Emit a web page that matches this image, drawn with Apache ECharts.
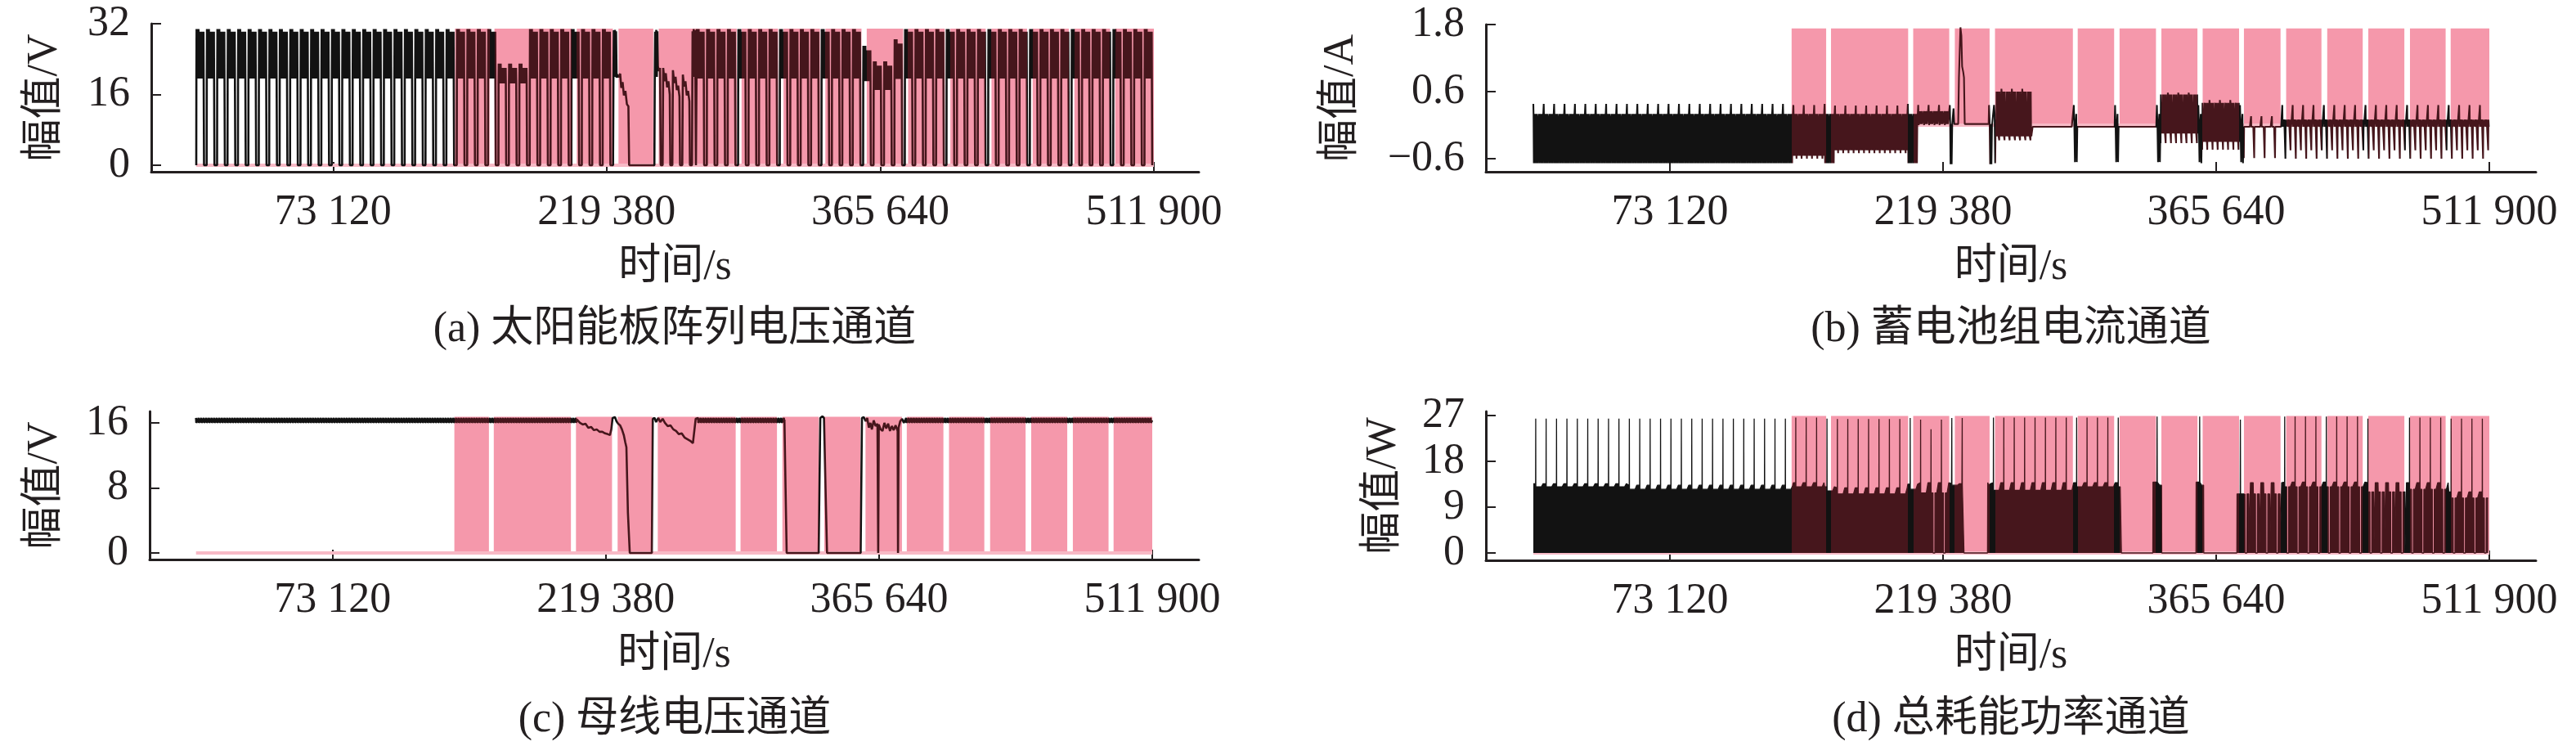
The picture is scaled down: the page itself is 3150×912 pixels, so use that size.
<!DOCTYPE html>
<html><head><meta charset="utf-8">
<script src="https://cdn.jsdelivr.net/npm/echarts@6/dist/echarts.min.js"></script>
<style>html,body{margin:0;padding:0;background:#fff}#c{width:3150px;height:912px}</style>
</head><body><div id="c"></div>
<script>
// ================= DATA =================
const xTicks = [73120, 219380, 365640, 511900];
const tEnd = 511900;
const period = 5570;      // orbit period in s (spacing of the repeating pattern)
const cycleCount = 92;

// anomaly label windows (pink), seconds
const windowStart = [138300,159400,203400,225700,247200,291500,313900,336300,358400,380500,403100,425100,447100,469400,491200];
const windowEnd   = [156800,200700,222700,244300,288900,311000,333400,355600,377900,400100,422000,444100,466400,488500,511900];
const labelTopA = 30.9, labelTopB = 1.73, labelTopC = 16.75, labelTopD = 26.9;

const yTicksA = [0, 16, 32];
const yTicksB = [-0.6, 0.6, 1.8];
const yTicksC = [0, 8, 16];
const yTicksD = [0, 9, 18, 27];

// ---- (a) solar array voltage: one orbit = [phase, level key]; z = 0
const aKeys = ['h','o','l'];
const aTemplate = [[0,'z'],[0.01,'l'],[0.03,'h'],[0.06,'l'],[0.09,'h'],[0.12,'l'],[0.15,'h'],[0.18,'l'],[0.21,'h'],[0.24,'l'],[0.27,'o'],[0.3,'l'],[0.33,'o'],[0.36,'l'],[0.39,'o'],[0.42,'l'],[0.45,'o'],[0.48,'l'],[0.51,'o'],[0.54,'l'],[0.57,'o'],[0.6,'l'],[0.63,'o'],[0.66,'l'],[0.69,'o'],[0.71,'l'],[0.745,'z'],[1,'z']];
// [fromCycle, toCycle, h, o, l]
const aRuns = [[0,28,30.8,30.2,19.6],[29,31,23.0,22.0,18.5],[32,63,30.8,30.2,19.6],[64,64,27.0,26.0,19.0],[65,66,23.5,22.5,17.0],[67,67,28.5,27.5,19.5],[68,91,30.8,30.2,19.6]];
const aSpecial = [[222800,0],[223000,19.6],[223200,30.5],[223500,20],[223800,30.6],[224100,20],[224400,30.3],[224700,19.8],[225000,20.5],[225800,19.9],[226600,20.7],[227200,17.5],[227900,18.8],[228600,15.8],[229400,16.8],[230200,13.8],[231000,13.3],[231400,0],[244900,0],[245100,20],[245300,30.2],[245600,20],[245900,30.6],[246200,20],[246500,30.3],[246800,22.3],[247400,21.3],[247900,22],[248300,0],[249300,0],[249600,22],[250300,19],[251000,20.8],[251700,17.6],[252400,19],[253100,16],[253400,0],[254500,0],[254800,21.5],[255500,18.6],[256200,20],[256900,17],[257600,18],[258300,15.5],[258600,0],[259800,0],[260100,20.5],[260800,17.8],[261500,19],[262200,15.8],[262900,16.8],[263600,14.5],[263900,0],[265000,0],[265300,30.3],[265600,20],[265900,30.8],[266200,20],[266500,30.5],[266800,19.8],[267100,0],[267400,0]];

// ---- (b) battery current
const bKeys = ['u','p','b','d','e','g'];
const bTemplate = [[0,'u'],[0.02,'p'],[0.05,'e'],[0.08,'p'],[0.11,'b'],[0.14,'e'],[0.17,'p'],[0.21,'b'],[0.27,'b'],[0.3,'d'],[0.33,'p'],[0.36,'b'],[0.39,'e'],[0.42,'b'],[0.5,'b'],[0.53,'p'],[0.56,'e'],[0.59,'b'],[0.62,'e'],[0.65,'p'],[0.68,'b'],[0.76,'b'],[0.79,'g'],[0.82,'p'],[0.85,'b'],[0.88,'e'],[0.91,'b'],[1,'b']];
// [from, to, u, p, b, d, e, g]
const bRuns = [[0,24,0.38,0.2,0.02,-0.68,-0.68,-0.68],[25,27,0.36,0.2,0.02,-0.6,-0.55,-0.6],[28,28,0.38,0.2,0.02,-0.68,-0.68,-0.68],[29,35,0.35,0.2,0.0,-0.5,-0.45,-0.5],[36,36,0.38,0.2,0.02,-0.68,-0.68,-0.68],[37,39,0.36,0.25,0.02,0.02,0.0,0.02],[40,43,0.02,0.02,0.02,0.02,0.02,0.02],[44,47,0.65,0.6,-0.15,-0.27,-0.2,-0.27],[48,59,-0.03,-0.03,-0.03,-0.03,-0.03,-0.03],[60,63,0.58,0.55,-0.05,-0.32,-0.15,-0.32],[64,67,0.45,0.4,-0.05,-0.44,-0.3,-0.44],[68,71,0.16,-0.03,-0.03,-0.59,-0.03,-0.03],[72,91,0.36,0.1,-0.03,-0.6,-0.03,-0.45]];
const bSpecial1 = [[222800,0.02],[223000,0.36],[223200,0.02],[223400,-0.7],[223700,0.02],[224000,-0.7],[224300,0.02],[225000,0.3],[225400,0.02],[227500,0.02],[227900,0.85],[228300,1.3],[228700,1.75],[229200,1.6],[229600,1.05],[230200,0.95],[230600,0.85],[231000,0.02],[243800,0.02],[244000,0.36],[244300,0.1],[244600,-0.7],[244900,0.02],[245300,-0.7],[245600,0.0],[246400,0.0],[246700,0.36],[247000,0.2],[247300,-0.68],[247600,0.1],[248000,-0.2]];
const bSpecial2 = [[289200,-0.03],[289400,0.36],[289700,-0.03],[290000,-0.66],[290300,-0.03],[290700,0.2],[291000,-0.66],[291300,-0.03]];
const bSpecial3 = [[311300,-0.03],[311500,0.36],[311800,-0.03],[312100,-0.66],[312400,-0.03],[312800,0.2],[313100,-0.66],[313400,-0.03]];
const bSpecial4 = [[333700,-0.03],[333900,0.36],[334200,-0.03],[334500,-0.66],[334800,-0.03],[335200,0.2],[335500,-0.66],[335800,-0.03]];
const bSpecial5 = [[355900,-0.03],[356100,0.36],[356400,-0.03],[356700,-0.66],[357000,-0.03],[357400,0.2],[357700,-0.68],[358000,-0.03]];
const bSpecial6 = [[378200,-0.03],[378400,0.36],[378700,-0.03],[379000,-0.66],[379300,-0.03],[379700,0.2],[380000,-0.68],[380300,-0.03]];

// ---- (c) bus voltage
const cKeys = ['h','l','m'];
const cTemplate = [[0,'h'],[0.03,'l'],[0.15,'m'],[0.25,'h'],[0.28,'l'],[0.4,'m'],[0.5,'h'],[0.53,'l'],[0.65,'m'],[0.75,'h'],[0.78,'l'],[0.9,'m'],[1,'h']];
const cRuns = [[0,91,16.6,16.0,16.3]];
const cSpecial1 = [[203900,16.4],[205500,16.0],[207000,15.8],[208500,15.9],[210000,15.4],[211500,15.5],[213000,15.1],[214500,15.2],[216000,14.9],[217500,14.9],[219000,14.7],[220500,14.6],[221600,14.5],[222300,15.2],[223000,16.6],[224300,16.7],[225100,16.2],[226000,15.9],[227000,15.7],[228000,15.2],[229000,14.5],[229800,13.6],[230400,13.0],[231200,5],[232200,0],[244000,0],[244500,16.5],[245500,16.6],[246300,16.1],[247500,16.6],[248500,16.1],[249800,16.5],[251000,16.0],[252500,15.6],[254000,15.7],[255500,15.2],[257000,15.0],[258500,14.6],[260000,14.7],[261500,14.2],[263000,14.0],[264500,13.8],[266000,13.5],[266800,13.3],[267500,16.5],[268000,16.6]];
const cSpecial2 = [[315000,16.4],[315600,8],[316200,0],[333300,0],[334200,16.6],[335300,16.8],[336200,16.6],[337000,8],[337800,0],[355800,0],[356500,16.6],[357500,16.7],[358500,16.2],[359300,16.6],[360200,15.4],[361000,16.0],[361800,15.2],[362800,16.3],[363800,15.6],[364800,15.9],[365200,0],[365500,15.8],[366500,15.2],[367500,15.0],[368500,16.0],[369500,15.3],[370500,15.9],[371500,15.0],[372500,15.6],[373500,15.1],[374500,15.7],[375600,15.0],[375800,0],[376100,15.4],[377000,16.2],[378000,16.5],[378700,16.6]];

// ---- (d) total power
const dKeys = ['s','a','c','z','y'];
const dTemplate = [[0,'a'],[0.2,'a'],[0.22,'c'],[0.23,'s'],[0.24,'c'],[0.42,'c'],[0.43,'z'],[0.6,'z'],[0.61,'c'],[0.78,'c'],[0.79,'y'],[0.93,'y'],[0.94,'a'],[1,'a']];
// [from, to, s, a, c, z, y]
const dRuns = [[0,8,26.4,13.6,13.0,13.0,13.0],[9,24,26.4,13.3,12.5,12.5,12.5],[25,27,26.6,13.8,13.0,13.0,13.0],[28,28,26.4,13.0,12.2,12.2,12.2],[29,35,26.3,12.8,11.6,11.6,11.6],[36,36,26.5,13.5,12.5,12.5,12.5],[37,37,26.2,13.8,11.8,11.8,11.8],[38,38,24.3,13.8,11.8,0,11.8],[39,39,26.2,13.8,11.8,0,11.8],[40,43,26.5,13.6,13.3,13.3,13.3],[44,51,26.6,13.8,12.3,12.3,12.3],[52,67,26.6,13.8,13.0,13.0,13.0],[68,71,11.6,13.8,11.6,0,0],[72,79,26.8,13.9,13.0,0,13.0],[80,80,26.4,13.8,12.0,0,0],[81,83,12.0,13.8,12.0,0,0],[84,87,26.6,13.8,12.5,0,12.5],[88,91,26.4,12.0,10.8,0,10.8]];
const dSpecial1 = [[230500,13.3],[230600,0],[243200,0],[243300,13.8]];
const dSpecial2 = [[314800,12.8],[314900,0],[331700,0],[331800,13.9],[333900,13.9],[334000,26.8],[334100,13.9],[335300,13.3],[336400,13.3],[336500,0],[354800,0],[354900,13.9],[356700,13.9],[356800,26.8],[356900,13.9],[357800,13.3],[358900,13.3],[359000,0],[376700,0],[376800,11.6],[378500,11.6],[378600,26.2],[378700,11.6],[380600,11.6],[380700,0]];

const titles = ['(a) 太阳能板阵列电压通道','(b) 蓄电池组电流通道','(c) 母线电压通道','(d) 总耗能功率通道'];
const yNames = ['幅值/V','幅值/A','幅值/V','幅值/W'];
const xName = '时间/s';

// ================= BUILD =================
function build(template, keys, runs, specials) {
  let pts = [];
  for (let k = 0; k < cycleCount; k++) {
    const run = runs.find(r => k >= r[0] && k <= r[1]);
    for (const [f, key] of template) {
      const t = Math.round((k + f) * period);
      if (t > tEnd) break;
      const v = key === 'z' && keys.indexOf('z') < 0 ? 0 : run[2 + keys.indexOf(key)];
      pts.push([t, v]);
    }
  }
  for (const sp of specials) {
    const s = sp[0][0], e = sp[sp.length - 1][0];
    pts = pts.filter(p => p[0] < s || p[0] > e).concat(sp);
  }
  pts.sort((p, q) => p[0] - q[0]);
  return pts;
}
function labelData(top) {
  const out = [];
  windowStart.forEach((s, i) => { out.push([s, 0], [s, top], [windowEnd[i], top], [windowEnd[i], 0]); });
  return out;
}

const sigA = build(aTemplate, aKeys, aRuns, [aSpecial]);
const sigB = build(bTemplate, bKeys, bRuns, [bSpecial1, bSpecial2, bSpecial3, bSpecial4, bSpecial5, bSpecial6]);
const sigC = build(cTemplate, cKeys, cRuns, [cSpecial1, cSpecial2]);
const sigD = build(dTemplate, dKeys, dRuns, [dSpecial1, dSpecial2]);

// ================= LAYOUT / STYLE =================
const ink = '#231f20';
const fontFam = "'Liberation Serif','Noto Sans CJK SC'";
const pink = '#f598ab', band = '#f7bac6', black = '#121212', maroon = '#46161c';
const grids = [
  {left: 185, top: 29, width: 1281, height: 181},
  {left: 1817, top: 30, width: 1284, height: 180},
  {left: 183, top: 503, width: 1283, height: 181},
  {left: 1817, top: 503, width: 1284, height: 182}
];
const xRange = [[-24043, 535943], [-25397, 536848], [-24822, 536854], [-25397, 536848]];
const yRange = [[-1.48, 32], [-0.834, 1.8], [-0.8, 17.4], [-1.45, 27.8]];
const yTicks = [yTicksA, yTicksB, yTicksC, yTicksD];
const yGap = [104, 151, 102, 99];
const lineW = [2.6, 2.1, 2.6, 1.3];
const tops = [labelTopA, labelTopB, labelTopC, labelTopD];
const sigs = [sigA, sigB, sigC, sigD];
const titlePos = [[825, 403], [2459, 403], [825, 880], [2459, 880]];

const fmtX = v => String(v).replace(/\B(?=(\d{3})+(?!\d))/g, ' ');
const fmtY = v => v < 0 ? '\u2212' + String(Math.abs(v)) : String(v);
const txt = {fontSize: 52, fontFamily: fontFam, color: ink};

const option = {
  animation: false,
  backgroundColor: '#fff',
  grid: grids.map(g => Object.assign({containLabel: false, outerBoundsMode: 'none'}, g)),
  xAxis: grids.map((g, i) => ({
    type: 'value', gridIndex: i, min: xRange[i][0], max: xRange[i][1],
    axisLine: {show: true, onZero: false, lineStyle: {color: ink, width: 3}},
    axisTick: {show: true, inside: true, length: 12, customValues: xTicks, lineStyle: {color: ink, width: 2}},
    axisLabel: Object.assign({customValues: xTicks, formatter: fmtX, margin: 24}, txt),
    splitLine: {show: false},
    name: xName, nameLocation: 'middle', nameGap: 91, nameMoveOverlap: false,
    nameTextStyle: txt
  })),
  yAxis: grids.map((g, i) => ({
    type: 'value', gridIndex: i, min: yRange[i][0], max: yRange[i][1],
    axisLine: {show: true, onZero: false, lineStyle: {color: ink, width: 3}},
    axisTick: {show: true, inside: true, length: 12, customValues: yTicks[i], lineStyle: {color: ink, width: 2}},
    axisLabel: Object.assign({customValues: yTicks[i], formatter: fmtY, margin: 26}, txt),
    splitLine: {show: false},
    name: yNames[i], nameLocation: 'middle', nameRotate: 90, nameGap: yGap[i], nameMoveOverlap: false,
    nameTextStyle: txt
  })),
  visualMap: [{
    type: 'piecewise', show: false, dimension: 0, seriesIndex: [2, 5, 8, 11],
    pieces: windowStart.map((s, i) => ({gte: s, lte: windowEnd[i], color: maroon})),
    outOfRange: {color: black}
  }],
  series: [],
  graphic: titles.map((t, i) => ({
    type: 'text', x: titlePos[i][0], y: titlePos[i][1],
    style: {text: t, font: '52px ' + fontFam, fill: ink, align: 'center', verticalAlign: 'middle', textAlign: 'center', textVerticalAlign: 'middle'}
  }))
};
for (let i = 0; i < 4; i++) {
  option.series.push({
    type: 'line', xAxisIndex: i, yAxisIndex: i, data: labelData(tops[i]), symbol: 'none', silent: true, z: 1,
    itemStyle: {color: pink}, lineStyle: {width: 0, opacity: 0}, areaStyle: {color: pink, opacity: 1, origin: 'auto'}
  });
  option.series.push({
    type: 'line', xAxisIndex: i, yAxisIndex: i, data: [[0, 0], [tEnd, 0]], symbol: 'none', silent: true, z: 2,
    itemStyle: {color: band}, lineStyle: {width: 4, color: band}
  });
  const s = {
    type: 'line', xAxisIndex: i, yAxisIndex: i, data: sigs[i], symbol: 'none', showSymbol: false, silent: true, z: 3,
    sampling: null, lineStyle: {width: lineW[i]}
  };
  if (i === 3) s.areaStyle = {opacity: 1, origin: 'auto'};
  option.series.push(s);
}
const chart = echarts.init(document.getElementById('c'), null, {renderer: 'canvas'});
chart.setOption(option);
</script>
</body></html>
